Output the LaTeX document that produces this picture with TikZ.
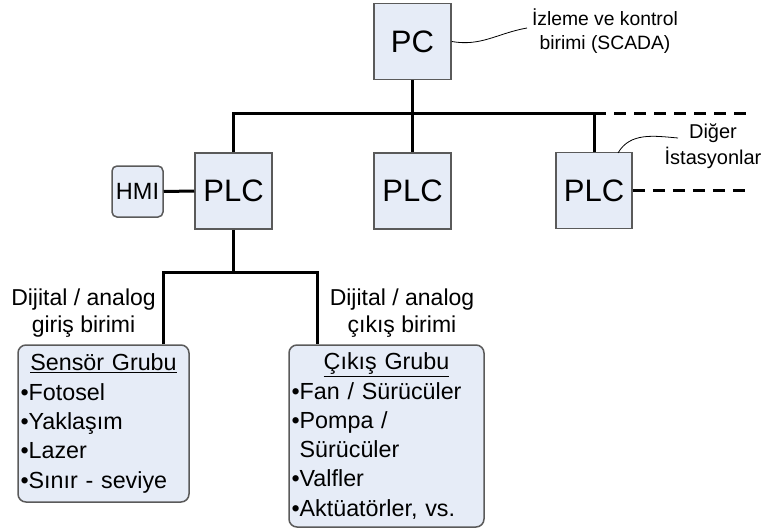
\documentclass[tikz,border=0pt]{standalone}
\usepackage{fontspec}
\setmainfont{Liberation Sans}
\usepackage{tikz}
\usetikzlibrary{positioning,calc}
\usepackage{xcolor}
\definecolor{boxfill}{RGB}{230,236,247}
\definecolor{boxline}{RGB}{90,90,90}

\begin{document}
\begin{tikzpicture}[
  x=1pt, y=-1pt,
  ctrl/.style={rectangle, draw=boxline, line width=1.5pt, fill=boxfill,
               minimum width=77pt, minimum height=76pt, inner sep=0pt,
               font=\fontsize{31}{35}\selectfont},
  hmibox/.style={rectangle, draw=boxline, line width=1.5pt, fill=boxfill,
                 rounded corners=5pt, minimum width=51pt, minimum height=51pt,
                 inner sep=0pt, font=\fontsize{23.5}{27}\selectfont},
  grp/.style={rectangle, draw=boxline, line width=1.5pt, fill=boxfill,
              rounded corners=8pt, inner xsep=2.5pt, inner ysep=0pt, align=left,
              font=\fontsize{23.3}{29.3}\selectfont},
  lbl/.style={align=center, inner sep=0pt, font=\fontsize{23}{27}\selectfont},
  note/.style={align=center, inner sep=0pt, font=\fontsize{19.3}{24}\selectfont},
  link/.style={line width=3pt, black},
  thin/.style={line width=0.8pt, black},
]
  \useasboundingbox (0,0) rectangle (764,530);

  %% Control level and field stations
  \node[ctrl] (pc) at (412.5,41.5) {PC};
  \node[ctrl] (plcA) at (233.5,191) {PLC};
  \node[ctrl] (plcB) at (412.5,191) {PLC};
  \node[ctrl, minimum width=76pt] (plcC) at (594,190.5) {PLC};
  \node[hmibox] (hmi) at (137.5,191.5) {HMI};

  %% Annotations
  \node[note] (scada) at (605,31) {İzleme ve kontrol\\birimi (SCADA)};
  \node[note, font=\fontsize{20}{26}\selectfont] (other) at (713,146) {Diğer\\İstasyonlar};
  \node[lbl] (inlbl) at (83.5,313) {Dijital / analog\\giriş birimi};
  \node[lbl] (outlbl) at (402,313) {Dijital / analog\\çıkış birimi};

  %% I/O groups
  \node[grp, text width=166pt, minimum height=157pt] (sensor) at (103.5,423.5)
       {\makebox[\linewidth]{\underline{Sensör Grubu}}\\
        •Fotosel\\•Yaklaşım\\•Lazer\\•Sınır - seviye};
  \node[grp, text width=190pt, minimum height=182pt] (actuator) at (386.5,436)
       {\makebox[\linewidth]{\underline{Çıkış Grubu}}\\
        •Fan / Sürücüler\\•Pompa /\\\phantom{•}Sürücüler\\•Valfler\\•Aktüatörler, vs.};

  %% Network bus
  \coordinate (busA) at (plcA.north |- 0,113);
  \coordinate (busC) at (plcC.north |- busA);
  \coordinate (busEnd) at (752,113);
  \coordinate (plcEnd) at (752,190.5);
  \draw[link] (plcA.north) -- (busA) -- (busC) -- (plcC.north);
  \draw[link] (pc.south) -- (plcB.north);
  \draw[link, dash pattern=on 12pt off 8pt] (busC) -- (busEnd);
  \draw[link, dash pattern=on 12pt off 8pt] (plcC.east) -- (plcEnd);
  \draw[link] (hmi.east) -- (plcA.west);

  %% I/O branch
  \coordinate (ioL) at (163,272);
  \coordinate (ioR) at (317,272);
  \draw[link] (plcA.south) -- (plcA.south |- ioL);
  \draw[link] (sensor.north -| ioL) -- (ioL) -- (ioR) -- (actuator.north -| ioR);

  %% Callout curves
  \draw[thin] (pc.east) to[out=-10,in=190] (527,28);
  \draw[thin] (618,153) to[out=60,in=175] (678,138);
\end{tikzpicture}
\end{document}
